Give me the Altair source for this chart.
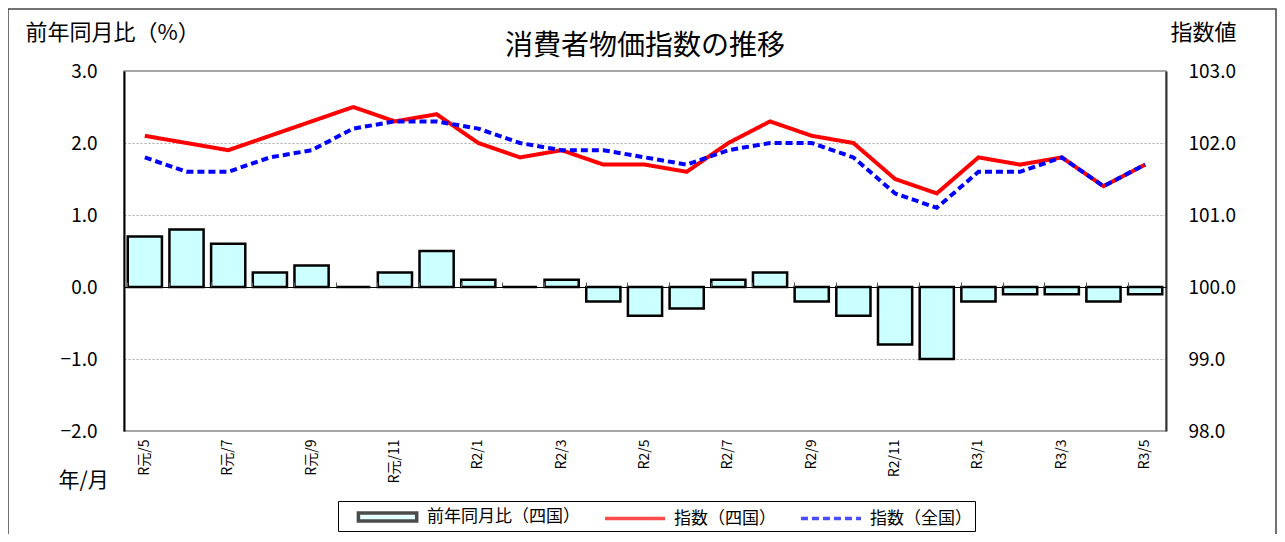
import altair as alt
import pandas as pd

FONT = "Noto Sans CJK JP"

months = ["R元/5", "R元/6", "R元/7", "R元/8", "R元/9", "R元/10", "R元/11", "R元/12",
          "R2/1", "R2/2", "R2/3", "R2/4", "R2/5", "R2/6", "R2/7", "R2/8", "R2/9",
          "R2/10", "R2/11", "R2/12", "R3/1", "R3/2", "R3/3", "R3/4", "R3/5"]
yoy_shikoku = [0.7, 0.8, 0.6, 0.2, 0.3, 0.0, 0.2, 0.5, 0.1, 0.0, 0.1, -0.2, -0.4,
               -0.3, 0.1, 0.2, -0.2, -0.4, -0.8, -1.0, -0.2, -0.1, -0.1, -0.2, -0.1]
idx_shikoku = [102.1, 102.0, 101.9, 102.1, 102.3, 102.5, 102.3, 102.4, 102.0, 101.8,
               101.9, 101.7, 101.7, 101.6, 102.0, 102.3, 102.1, 102.0, 101.5, 101.3,
               101.8, 101.7, 101.8, 101.4, 101.7]
idx_zenkoku = [101.8, 101.6, 101.6, 101.8, 101.9, 102.2, 102.3, 102.3, 102.2, 102.0,
               101.9, 101.9, 101.8, 101.7, 101.9, 102.0, 102.0, 101.8, 101.3, 101.1,
               101.6, 101.6, 101.8, 101.4, 101.7]
series = ["前年同月比（四国）", "指数（四国）", "指数（全国）"]

bars_df = pd.DataFrame({"月": months, "前年同月比": yoy_shikoku})
lines_df = pd.concat([
    pd.DataFrame({"月": months, "指数": idx_shikoku, "系列": series[1]}),
    pd.DataFrame({"月": months, "指数": idx_zenkoku, "系列": series[2]}),
])

x_labels = alt.X("月:N", sort=months, title="年/月",
                 scale=alt.Scale(paddingInner=0.18, paddingOuter=0.09),
                 axis=alt.Axis(values=months[::2], labelAngle=270, labelFontSize=14,
                               labelFont=FONT, labelColor="black", labelPadding=8,
                               ticks=False, domain=False, titleFont=FONT,
                               titleFontSize=21, titleFontWeight="normal",
                               titleAngle=0, titleAlign="left", titleBaseline="middle",
                               titleX=-66, titleY=49))
x_zero = alt.X("月:N", sort=months,
               axis=alt.Axis(orient="top", offset=-216, labels=False, title=None,
                             bandPosition=0, tickSize=5, tickColor="#555",
                             domainColor="black", domainWidth=1, zindex=1))

bars = alt.Chart(bars_df).mark_bar(fill="#ccffff", stroke="black", strokeWidth=2.5).encode(
    x=x_labels,
    y=alt.Y("前年同月比:Q", scale=alt.Scale(domain=[-2, 3], nice=False),
            title="前年同月比（%）",
            axis=alt.Axis(values=[-2, -1, 0, 1, 2, 3], format=".1f", ticks=False,
                          labelFont=FONT, labelFontSize=19, labelColor="black",
                          labelPadding=27, domainColor="black", domainWidth=2,
                          grid=True, gridColor="#aaaaaa", gridDash=[2, 2],
                          titleFont=FONT, titleFontSize=22, titleFontWeight="normal",
                          titleAngle=0, titleAlign="left", titleBaseline="middle",
                          titleX=-99, titleY=-39)),
)

lines = alt.Chart(lines_df).mark_line(strokeWidth=4).encode(
    x=x_zero,
    y=alt.Y("指数:Q", scale=alt.Scale(domain=[98, 103], nice=False), title="指数値",
            axis=alt.Axis(orient="right", values=[98, 99, 100, 101, 102, 103],
                          format=".1f", ticks=False, grid=False, labelFont=FONT,
                          labelFontSize=19, labelColor="black", labelPadding=22,
                          domainColor="#333", domainWidth=2,
                          titleFont=FONT, titleFontSize=22, titleFontWeight="normal",
                          titleAngle=0, titleAlign="left", titleBaseline="middle",
                          titleX=4, titleY=-39)),
    stroke=alt.Stroke("系列:N", scale=alt.Scale(domain=series, range=["black", "red", "blue"])),
    strokeDash=alt.StrokeDash("系列:N", scale=alt.Scale(domain=series, range=[[1, 0], [1, 0], [7, 4]])),
    order=alt.Order("系列:N", sort="descending"),
)

# legend symbols: wide paths on a small symbol size keep the rows short
legend = alt.Legend(orient="none", legendX=214, legendY=430, direction="horizontal",
                    title=None, labelFont=FONT, labelFontSize=17, labelColor="black",
                    labelLimit=400, symbolSize=484, symbolStrokeWidth=3.5,
                    labelOffset=60, columnPadding=8, padding=3,
                    strokeColor="black", fillColor="white")

legend_layer = alt.Chart(lines_df).mark_point(filled=False).encode(
    stroke=alt.Stroke("系列:N", legend=legend),
    strokeDash=alt.StrokeDash("系列:N"),
    fill=alt.Fill("系列:N", scale=alt.Scale(domain=series, range=["#ccffff", "transparent", "transparent"])),
    shape=alt.Shape("系列:N", scale=alt.Scale(domain=series,
                                               range=["M0.4,-0.36H5.7V0.36H0.4Z", "M0.36,0H5.82", "M0.36,0H5.82"])),
).transform_filter("false")

frame = alt.Chart(pd.DataFrame({"a": [0]})).mark_rect(filled=False, stroke="#444", strokeWidth=1.5).encode(
    x=alt.value(-116), x2=alt.value(1152), y=alt.value(-62), y2=alt.value(480),
)

chart = alt.layer(frame, bars, lines, legend_layer).resolve_scale(
    y="independent"
).resolve_axis(x="independent").properties(
    width=1042, height=360,
    title=alt.TitleParams("消費者物価指数の推移", font=FONT, fontSize=28,
                          fontWeight="normal", anchor="middle", frame="group",
                          offset=-53, color="black"),
    padding={"left": 116, "top": 63, "right": 111, "bottom": 103},
    autosize=alt.AutoSizeParams(type="none"),
).configure_view(stroke="#888888", strokeWidth=1.5)

chart.save("out.html", embed_options={"renderer": "svg", "actions": False})
